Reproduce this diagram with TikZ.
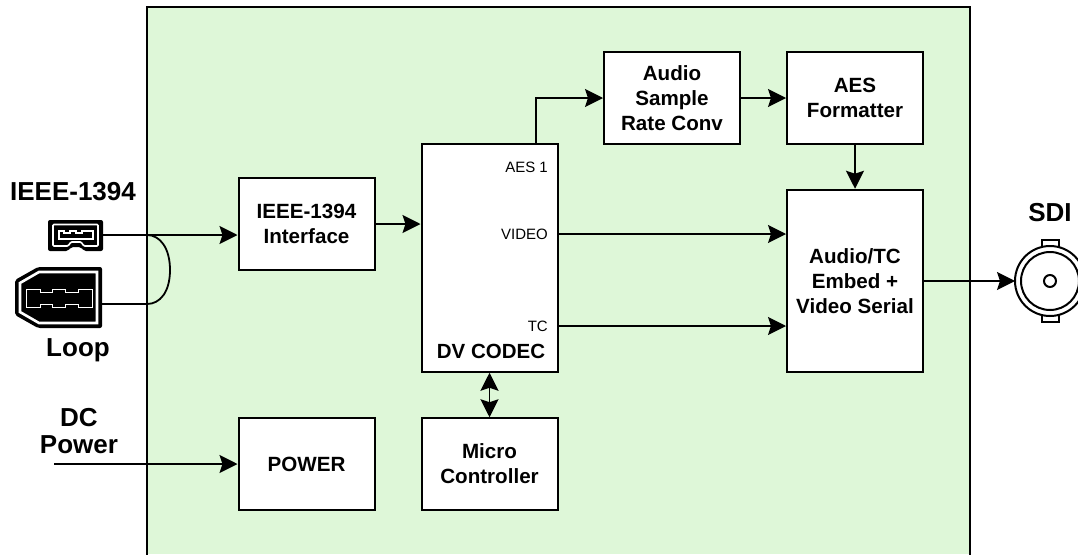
\documentclass[tikz,border=0pt]{standalone}
\usepackage{fontspec}
\setmainfont{Liberation Sans}
\usepackage{tikz}
\usetikzlibrary{arrows.meta}
\definecolor{boardgreen}{HTML}{DEF7D8}
\tikzset{
  blockbox/.style={draw=black,fill=white,line width=2pt,minimum width=136pt,minimum height=91.5pt,inner sep=0pt,align=center,font=\fontsize{20.6}{25.2}\selectfont\bfseries},
  biglabel/.style={inner sep=0pt,align=center,font=\fontsize{26}{27}\selectfont\bfseries},
  portlabel/.style={inner sep=0pt,anchor=east,font=\fontsize{15}{18}\selectfont},
  signal/.style={line width=1.8pt,-{Stealth[length=18pt,width=18pt,inset=3pt]}},
  wire/.style={line width=1.8pt}
}
\begin{document}
\begin{tikzpicture}[x=1pt,y=-1pt]
\useasboundingbox (0,0) rectangle (1078,554);
% board
\fill[boardgreen] (147,7) rectangle (970,554);
\draw[line width=2pt] (147,556) -- (147,7) -- (970,7) -- (970,556);

% blocks
\node[blockbox] (iface) at (306.5,224) {IEEE-1394\\Interface};
\node[blockbox,minimum height=227.5pt] (codec) at (489.5,258) {};
\node[blockbox] (src) at (672,98) {Audio\\Sample\\Rate Conv};
\node[blockbox] (aes) at (855,98) {AES\\Formatter};
\node[blockbox,minimum height=182.5pt] (embed) at (855,281) {Audio/TC\\Embed +\\Video Serial};
\node[blockbox] (power) at (306.5,464) {POWER};
\node[blockbox] (micro) at (489.5,464) {Micro\\Controller};

% codec texts
\node[portlabel] (aes1) at (548,167) {AES 1};
\node[portlabel] (video) at (548,234) {VIDEO};
\node[portlabel] (tc) at (548,326) {TC};
\node[inner sep=0pt,font=\fontsize{20.5}{25}\selectfont\bfseries] (dvcodec) at (491,351) {DV CODEC};

% outside texts
\node[biglabel] (fwlabel) at (73,192) {IEEE-1394};
\node[biglabel] (looplabel) at (78,350) {Loop};
\node[biglabel] (dclabel) at (79,431) {DC\\Power};
\node[biglabel] (sdilabel) at (1050,213) {SDI};

% 4 pin socket
\fill[rounded corners=2pt] (48,220) -- (103,220) -- (103,251) -- (84,251) -- (81,247) -- (71,247) -- (68,251) -- (48,251) -- cycle;
\draw[white,line width=1.6pt,rounded corners=1pt] (53,224.5) -- (98,224.5) -- (98,246) -- (84,246) -- (81,242) -- (71,242) -- (68,246) -- (53,246) -- cycle;
\draw[white,line width=1.2pt] (59,231) -- (64,231) -- (64,233) -- (70,233) -- (70,231) -- (76,231) -- (76,233) -- (82,233) -- (82,231) -- (93,231) -- (93,239) -- (59,239) -- cycle;
\coordinate (fwin) at (103,235);

% 6 pin socket
\fill[rounded corners=2pt] (38,267) -- (102,267) -- (102,328) -- (38,328) -- (15,315) -- (15,280) -- cycle;
\draw[white,line width=2.6pt] (39,272) -- (97,272) -- (97,323) -- (39,323) -- (20,312) -- (20,283) -- cycle;
\draw[white,line width=1pt] (26,289) -- (40,289) -- (40,292) -- (52,292) -- (52,289) -- (65,289) -- (65,292) -- (78,292) -- (78,289) -- (92,289) -- (92,307) -- (78,307) -- (78,304) -- (65,304) -- (65,307) -- (52,307) -- (52,304) -- (40,304) -- (40,307) -- (26,307) -- cycle;
\coordinate (fwloop) at (102,304);

% BNC
\coordinate (bnc) at (1050,281);
\draw[line width=2pt,fill=white] (1042,240) rectangle (1059,247);
\draw[line width=2pt,fill=white] (1042,315) rectangle (1059,322);
\draw[line width=2pt,fill=white] (bnc) circle (35);
\draw[line width=2pt] (bnc) circle (29);
\draw[line width=2pt] (bnc) circle (6);
\coordinate (bncin) at (1015,281);

% connectors
\draw[signal] (fwin) -- (iface.west |- fwin);
\draw[wire] (fwloop) -- (147,304) .. controls (160,304) and (170,292) .. (170,270) .. controls (170,248) and (160,235) .. (147,235);
\coordinate (dcin) at (54,464);
\draw[signal] (dcin) -- (power.west);
\draw[signal] (iface.east) -- (codec.west |- iface.east);
\draw[signal] (536,144) -- (536,98) -- (src.west);
\draw[signal] (src.east) -- (aes.west);
\draw[signal] (aes.south) -- (embed.north);
\draw[signal] (codec.east |- video) -- (embed.west |- video);
\draw[signal] (codec.east |- tc) -- (embed.west |- tc);
\draw[signal] (embed.east) -- (bncin);
\draw[line width=1.8pt,{Stealth[length=18pt,width=18pt,inset=3pt]}-{Stealth[length=18pt,width=18pt,inset=3pt]}] (codec.south) -- (micro.north);

\end{tikzpicture}
\end{document}
